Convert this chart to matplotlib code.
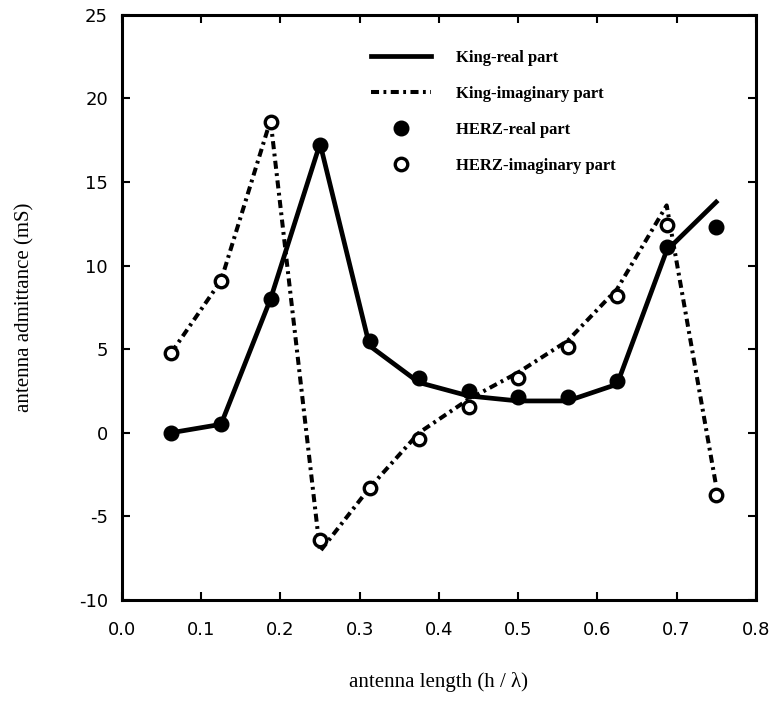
import matplotlib
matplotlib.use("Agg")
import matplotlib.pyplot as plt
import numpy as np

plt.rcParams['axes.unicode_minus'] = False

# data
x_king = [0.0625, 0.125, 0.1875, 0.25, 0.3125, 0.375, 0.4375, 0.5, 0.5625, 0.625, 0.6875, 0.75]
king_real = [0.0, 0.5, 8.0, 17.3, 5.2, 3.0, 2.2, 1.9, 1.9, 2.9, 10.9, 13.8]
king_imag = [4.8, 9.1, 18.7, -7.1, -3.3, 0.0, 2.0, 3.6, 5.5, 8.6, 13.6, -3.2]

x_herz = [0.0625, 0.125, 0.1875, 0.25, 0.3125, 0.375, 0.4375, 0.5, 0.5625, 0.625, 0.6875, 0.75]
herz_real = [0.0, 0.5, 8.0, 17.2, 5.5, 3.3, 2.5, 2.15, 2.15, 3.1, 11.1, 12.3]
herz_imag = [4.75, 9.05, 18.6, -6.4, -3.3, -0.4, 1.55, 3.3, 5.15, 8.2, 12.4, -3.75]

x_ticks = [0.0, 0.1, 0.2, 0.3, 0.4, 0.5, 0.6, 0.7, 0.8]
x_ticklabels = ["0.0", "0.1", "0.2", "0.3", "0.4", "0.5", "0.6", "0.7", "0.8"]
y_ticks = [-10, -5, 0, 5, 10, 15, 20, 25]
y_ticklabels = ["-10", "-5", "0", "5", "10", "15", "20", "25"]

fig = plt.figure(figsize=(7.72, 7.09), dpi=100)
ax = fig.add_axes([0.158, 0.154, 0.821, 0.825])

ax.plot(x_king, king_real, color='black', lw=3.4, solid_joinstyle='round',
        label='King-real part', zorder=2)
ax.plot(x_king, king_imag, color='black', lw=2.9, dashes=(2.0, 1.1, 0.7, 1.1),
        label='King-imaginary part', zorder=2)
ax.plot(x_herz, herz_real, linestyle='none', marker='o', ms=10.5, mfc='black',
        mec='black', label='HERZ-real part', zorder=3)
ax.plot(x_herz, herz_imag, linestyle='none', marker='o', ms=9, mfc='white',
        mec='black', mew=2.4, label='HERZ-imaginary part', zorder=3)

ax.set_xlim(0.0, 0.8)
ax.set_ylim(-10, 25)
ax.set_xticks(x_ticks)
ax.set_xticklabels(x_ticklabels)
ax.set_yticks(y_ticks)
ax.set_yticklabels(y_ticklabels)

ax.tick_params(direction='in', length=6, width=1.5, top=True, right=True,
               labelsize=13)
ax.tick_params(axis='x', pad=15)
ax.tick_params(axis='y', pad=10)
for s in ax.spines.values():
    s.set_linewidth(2.2)

ax.set_xlabel("antenna length (h / λ)", family='Liberation Serif', fontsize=15,
              labelpad=24)
ax.set_ylabel("antenna admittance (mS)", family='Liberation Serif', fontsize=15,
              labelpad=32)

leg = ax.legend(loc='upper left', bbox_to_anchor=(0.37, 0.966), frameon=False,
                prop={'family': 'Liberation Serif', 'size': 12, 'weight': 'bold'},
                handlelength=3.6, labelspacing=1.2, handletextpad=1.5)

fig.savefig("out.png", dpi=100)
